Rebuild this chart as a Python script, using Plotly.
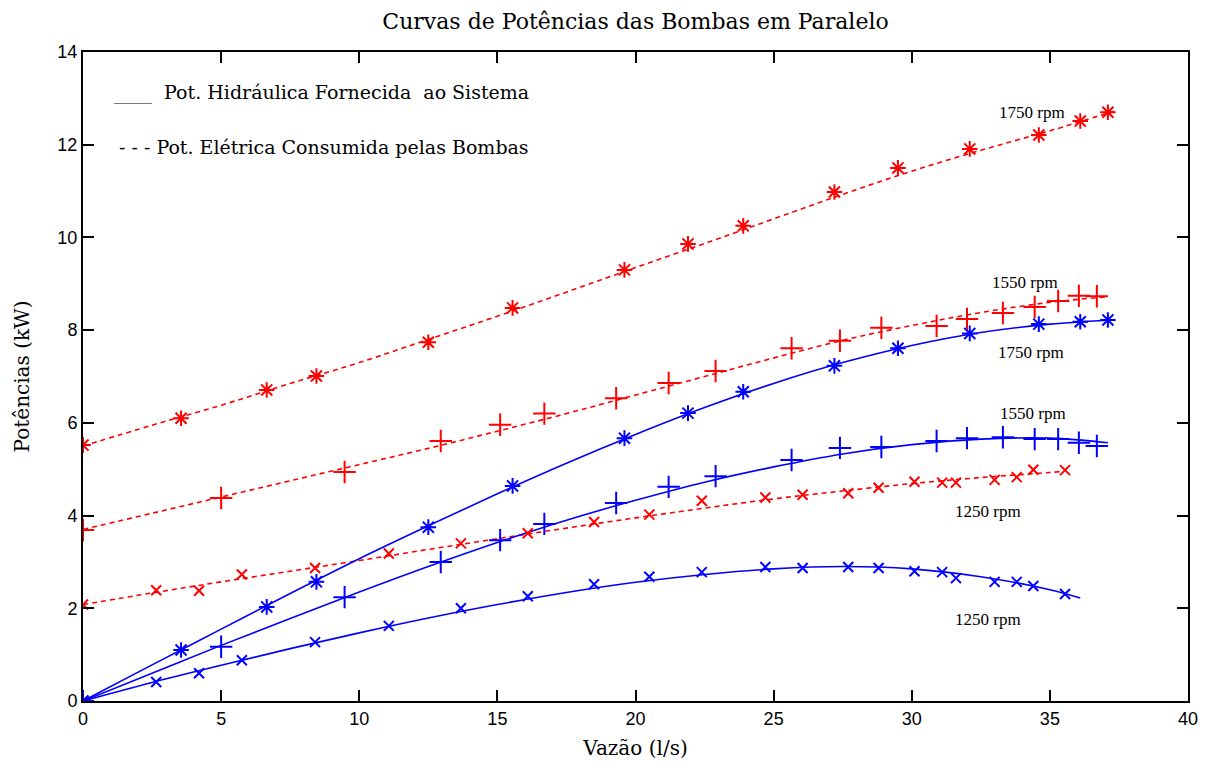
import plotly.graph_objects as go

# ---- marker data (flow l/s, power kW) ----
q_1750 = [0, 3.55, 6.65, 8.45, 12.5, 15.55, 19.6, 21.9, 23.9, 27.2, 29.5, 32.1, 34.6, 36.1, 37.1]
elec_1750 = [5.52, 6.10, 6.71, 7.01, 7.74, 8.48, 9.30, 9.86, 10.25, 10.98, 11.50, 11.91, 12.21, 12.51, 12.70]
hyd_1750 = [0, 1.10, 2.03, 2.57, 3.75, 4.64, 5.67, 6.21, 6.67, 7.23, 7.61, 7.93, 8.13, 8.18, 8.22]

q_1550 = [0, 5.0, 9.47, 12.95, 15.1, 16.7, 19.3, 21.2, 22.9, 25.65, 27.4, 28.9, 30.9, 32.0, 33.3, 34.45, 35.3, 36.05, 36.7]
elec_1550 = [3.69, 4.38, 4.94, 5.61, 5.96, 6.20, 6.53, 6.86, 7.12, 7.61, 7.77, 8.05, 8.09, 8.24, 8.37, 8.50, 8.63, 8.74, 8.73]
hyd_1550 = [0, 1.17, 2.24, 3.00, 3.47, 3.82, 4.27, 4.62, 4.85, 5.20, 5.46, 5.48, 5.61, 5.67, 5.69, 5.65, 5.65, 5.57, 5.50]

q_1250 = [0, 2.65, 4.2, 5.75, 8.4, 11.07, 13.68, 16.1, 18.5, 20.5, 22.4, 24.7, 26.05, 27.7, 28.8, 30.1, 31.1, 31.6, 33.0, 33.8, 34.4, 35.55]
elec_1250 = [2.08, 2.39, 2.38, 2.73, 2.87, 3.18, 3.40, 3.62, 3.86, 4.02, 4.32, 4.39, 4.45, 4.48, 4.60, 4.73, 4.71, 4.71, 4.77, 4.83, 4.99, 4.98]
hyd_1250 = [0, 0.41, 0.60, 0.88, 1.27, 1.62, 2.00, 2.26, 2.52, 2.68, 2.78, 2.89, 2.87, 2.89, 2.87, 2.80, 2.78, 2.65, 2.57, 2.57, 2.48, 2.31]

# ---- fitted curves ----
cq_1750 = [0, 2.5, 5, 7.5, 10, 12.5, 15, 17.5, 20, 22.5, 25, 27.5, 30, 32.5, 35, 37.3]
c_hyd_1750 = [0, 0.78, 1.55, 2.32, 3.07, 3.78, 4.47, 5.13, 5.75, 6.33, 6.85, 7.30, 7.67, 7.95, 8.13, 8.22]
c_elec_1750 = [5.5, 5.95, 6.38, 6.85, 7.30, 7.80, 8.30, 8.82, 9.35, 9.87, 10.40, 10.93, 11.43, 11.88, 12.30, 12.72]

cq_1550 = [0, 2.5, 5, 7.5, 10, 12.5, 15, 17.5, 20, 22.5, 25, 27.5, 30, 32.5, 35, 37.1]
c_hyd_1550 = [0, 0.60, 1.20, 1.78, 2.35, 2.90, 3.42, 3.90, 4.33, 4.72, 5.05, 5.33, 5.53, 5.65, 5.67, 5.57]
c_elec_1550 = [3.70, 4.05, 4.40, 4.75, 5.10, 5.45, 5.82, 6.20, 6.60, 7.00, 7.40, 7.78, 8.10, 8.38, 8.60, 8.72]

cq_1250_h = [0, 2.5, 5, 7.5, 10, 12.5, 15, 17.5, 20, 22.5, 25, 27.5, 30, 32.5, 35, 36.1]
c_hyd_1250 = [0, 0.40, 0.77, 1.13, 1.47, 1.79, 2.08, 2.34, 2.56, 2.73, 2.85, 2.90, 2.85, 2.68, 2.40, 2.22]
cq_1250_e = [0, 2.5, 5, 7.5, 10, 12.5, 15, 17.5, 20, 22.5, 25, 27.5, 30, 32.5, 35, 35.4]
c_elec_1250 = [2.08, 2.33, 2.57, 2.80, 3.03, 3.27, 3.50, 3.73, 3.95, 4.16, 4.36, 4.53, 4.69, 4.82, 4.93, 4.95]

# ---- labels ----
title = "Curvas de Potências das Bombas em Paralelo"
x_label = "Vazão (l/s)"
y_label = "Potências (kW)"
leg_hyd = "____  Pot. Hidráulica Fornecida  ao Sistema"
leg_elec = "- - - Pot. Elétrica Consumida pelas Bombas"
rpm_labels = [("1750 rpm", 34.35, 12.69), ("1550 rpm", 34.1, 9.02), ("1750 rpm", 34.3, 7.51),
              ("1550 rpm", 34.4, 6.21), ("1250 rpm", 32.75, 4.08), ("1250 rpm", 32.75, 1.75)]

BLUE = "rgb(0,0,255)"
RED = "rgb(255,0,0)"
SERIF = "DejaVu Serif, serif"
SERIF2 = "Liberation Serif, Times New Roman, serif"
SANS = "Liberation Sans, Arial, sans-serif"

fig = go.Figure()

curves = [
    (cq_1750, c_elec_1750, RED, "dash"),
    (cq_1550, c_elec_1550, RED, "dash"),
    (cq_1250_e, c_elec_1250, RED, "dash"),
    (cq_1750, c_hyd_1750, BLUE, "solid"),
    (cq_1550, c_hyd_1550, BLUE, "solid"),
    (cq_1250_h, c_hyd_1250, BLUE, "solid"),
]
for xs, ys, col, dash in curves:
    fig.add_trace(go.Scatter(x=xs, y=ys, mode="lines",
                             line=dict(color=col, width=1.6, dash="5px,4px" if dash == "dash" else "solid",
                                       shape="spline", smoothing=1.0),
                             showlegend=False, hoverinfo="skip"))

markers = [
    (q_1750, elec_1750, RED, "asterisk-open", 13),
    (q_1550, elec_1550, RED, "cross-thin-open", 16),
    (q_1250, elec_1250, RED, "x-thin-open", 10),
    (q_1750, hyd_1750, BLUE, "asterisk-open", 13),
    (q_1550, hyd_1550, BLUE, "cross-thin-open", 16),
    (q_1250, hyd_1250, BLUE, "x-thin-open", 10),
]
for xs, ys, col, sym, sz in markers:
    fig.add_trace(go.Scatter(x=xs, y=ys, mode="markers",
                             marker=dict(symbol=sym, size=sz, color=col, line=dict(color=col, width=2)),
                             showlegend=False))

annotations = []
for txt, x, y in rpm_labels:
    annotations.append(dict(x=x, y=y, xref="x", yref="y", text=txt, showarrow=False,
                            font=dict(family=SERIF2, size=17, color="black")))
annotations.append(dict(x=0.026, y=0.937, xref="paper", yref="paper", text=leg_hyd, showarrow=False,
                        xanchor="left", yanchor="middle", font=dict(family=SERIF, size=19, color="black")))
annotations.append(dict(x=0.031, y=0.854, xref="paper", yref="paper", text=leg_elec, showarrow=False,
                        xanchor="left", yanchor="middle", font=dict(family=SERIF, size=19, color="black")))

axis_common = dict(showline=True, linecolor="black", linewidth=2, mirror="ticks",
                   ticks="inside", ticklen=11, tickwidth=1.5, tickcolor="black",
                   showgrid=False, zeroline=False,
                   tickfont=dict(family=SANS, size=18, color="black"))

fig.update_layout(
    width=1215, height=769,
    margin=dict(l=83, r=27, t=52, b=68),
    paper_bgcolor="white", plot_bgcolor="white",
    title=dict(text=title, x=0.5, xref="paper", xanchor="center", y=0.972, yanchor="middle",
               font=dict(family=SERIF, size=22, color="black")),
    xaxis=dict(range=[0, 40], tickvals=[0, 5, 10, 15, 20, 25, 30, 35, 40],
               title=dict(text=x_label, standoff=13, font=dict(family=SERIF, size=20, color="black")),
               **axis_common),
    yaxis=dict(range=[0, 14], tickvals=[0, 2, 4, 6, 8, 10, 12, 14],
               title=dict(text=y_label, standoff=22, font=dict(family=SERIF, size=20, color="black")),
               **axis_common),
    annotations=annotations,
)

fig.write_html("out.html")
